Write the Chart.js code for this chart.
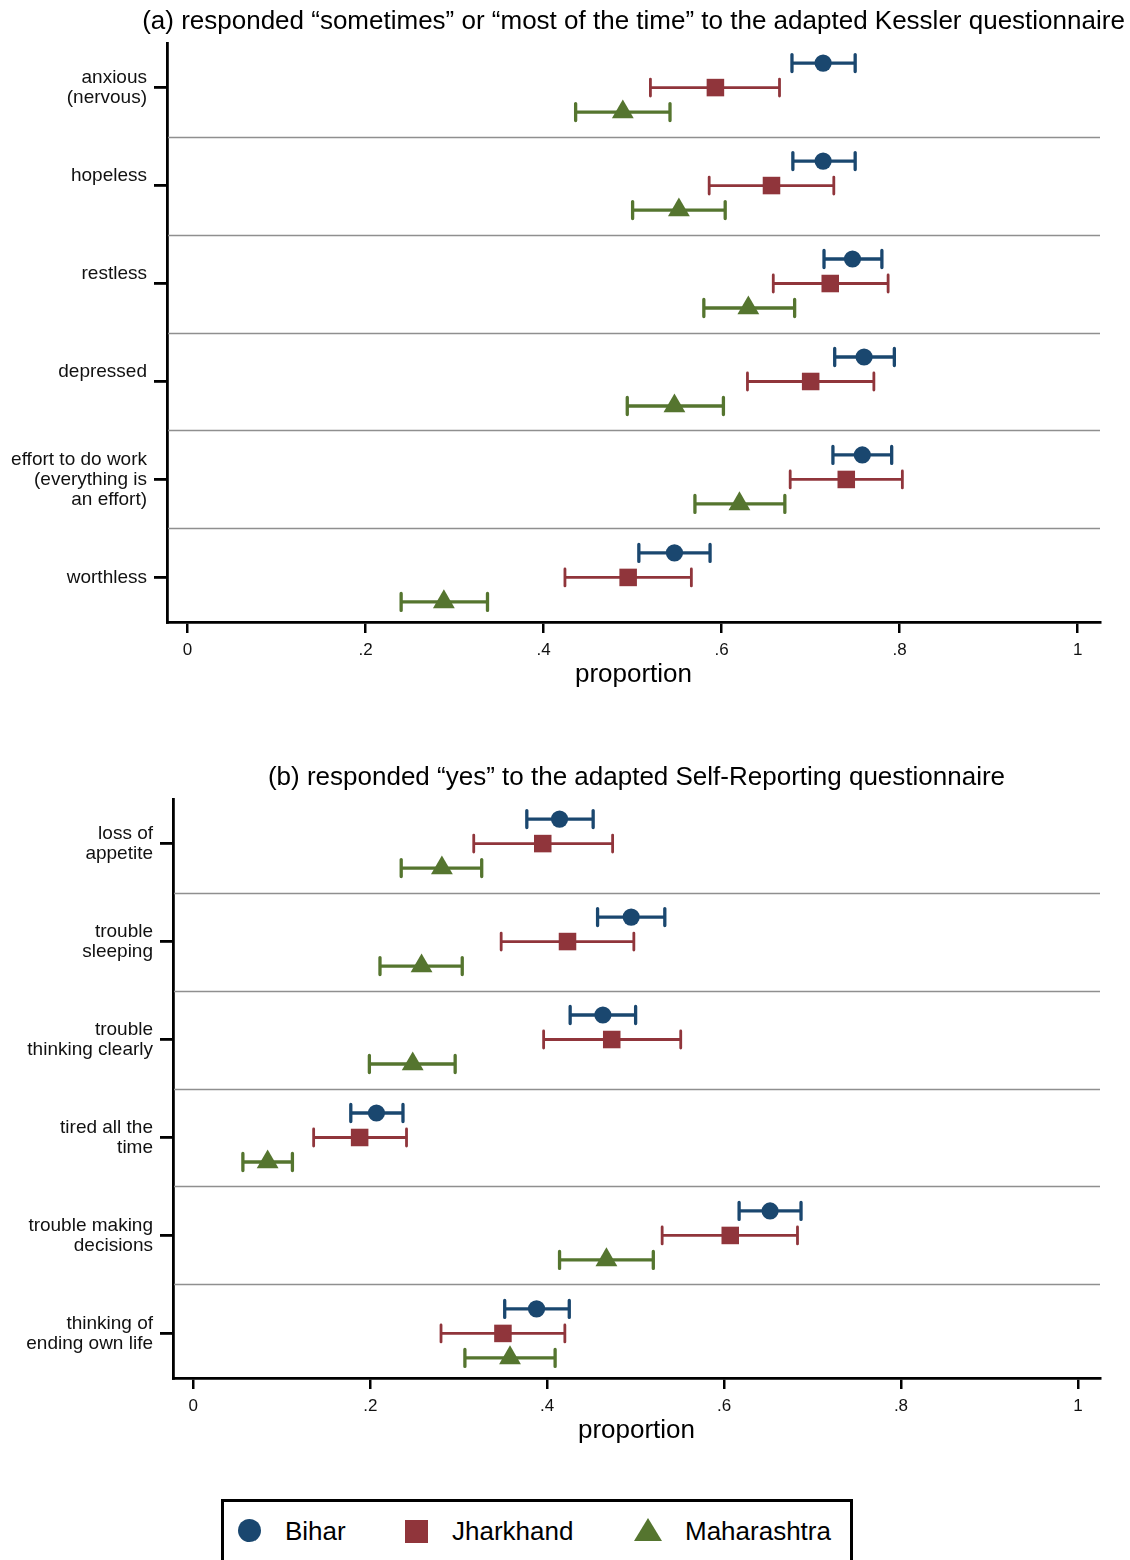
<!DOCTYPE html>
<html>
<head>
<meta charset="utf-8">
<title>Mental health indicators by state</title>
<script src="https://cdn.jsdelivr.net/npm/chart.js@4.4.1/dist/chart.umd.min.js"></script>
<style>
  html, body { margin: 0; padding: 0; background: #fff; }
  #wrap { position: relative; width: 1130px; height: 1560px; overflow: hidden;
          font-family: "Liberation Sans", Arial, sans-serif; color: #000; }
  #wrap canvas { position: absolute; left: 0; }
  #panelA { top: 0; }
  #panelB { top: 756px; }
  .legend-box { position: absolute; left: 221px; top: 1499px; width: 632px; height: 100px;
                border: 3px solid #000; box-sizing: border-box; }
  .mk { position: absolute; }
  .lg-text { position: absolute; top: 1518px; font-size: 26px; line-height: 26px; white-space: nowrap; }
</style>
</head>
<body>
<div id="wrap">
  <canvas id="panelA" width="1267" height="700"></canvas>
  <canvas id="panelB" width="1273" height="700"></canvas>

  <div class="legend-box"></div>
  <div class="mk" style="left:238px;top:1519px;width:23px;height:23px;border-radius:50%;background:#1a476f;"></div>
  <div class="lg-text" style="left:285px;">Bihar</div>
  <div class="mk" style="left:405px;top:1520px;width:23px;height:23px;background:#90353b;"></div>
  <div class="lg-text" style="left:452px;">Jharkhand</div>
  <div class="mk" style="left:634px;top:1518px;width:0;height:0;border-left:14px solid transparent;border-right:14px solid transparent;border-bottom:23px solid #55752f;"></div>
  <div class="lg-text" style="left:685px;">Maharashtra</div>
</div>

<script>
// ---- Data -------------------------------------------------------------
const stateNames = ['Bihar', 'Jharkhand', 'Maharashtra'];

// (a) adapted Kessler questionnaire items (a trailing '' keeps a blank second label line)
const kesslerItems = [
  ['anxious', '(nervous)'],
  ['hopeless', ''],
  ['restless', ''],
  ['depressed', ''],
  ['effort to do work', '(everything is', 'an effort)'],
  ['worthless']
];
const kesslerBihar          = [0.714, 0.714, 0.747, 0.760, 0.758, 0.547];
const kesslerBiharLo        = [0.679, 0.680, 0.715, 0.727, 0.725, 0.507];
const kesslerBiharHi        = [0.750, 0.750, 0.780, 0.794, 0.791, 0.587];
const kesslerJharkhand      = [0.593, 0.656, 0.722, 0.700, 0.740, 0.495];
const kesslerJharkhandLo    = [0.520, 0.586, 0.658, 0.629, 0.677, 0.424];
const kesslerJharkhandHi    = [0.665, 0.726, 0.787, 0.771, 0.803, 0.566];
const kesslerMaharashtra    = [0.489, 0.552, 0.630, 0.547, 0.620, 0.288];
const kesslerMaharashtraLo  = [0.436, 0.500, 0.580, 0.494, 0.570, 0.240];
const kesslerMaharashtraHi  = [0.542, 0.604, 0.682, 0.602, 0.671, 0.337];

// (b) adapted Self-Reporting questionnaire items
const srqItems = [
  ['loss of', 'appetite'],
  ['trouble', 'sleeping'],
  ['trouble', 'thinking clearly'],
  ['tired all the', 'time'],
  ['trouble making', 'decisions'],
  ['thinking of', 'ending own life']
];
const srqBihar          = [0.414, 0.495, 0.463, 0.207, 0.652, 0.388];
const srqBiharLo        = [0.377, 0.457, 0.426, 0.178, 0.617, 0.352];
const srqBiharHi        = [0.452, 0.533, 0.500, 0.237, 0.687, 0.425];
const srqJharkhand      = [0.395, 0.423, 0.473, 0.188, 0.607, 0.350];
const srqJharkhandLo    = [0.317, 0.348, 0.396, 0.136, 0.530, 0.280];
const srqJharkhandHi    = [0.474, 0.498, 0.551, 0.241, 0.683, 0.420];
const srqMaharashtra    = [0.281, 0.258, 0.248, 0.084, 0.467, 0.358];
const srqMaharashtraLo  = [0.235, 0.211, 0.199, 0.056, 0.414, 0.307];
const srqMaharashtraHi  = [0.326, 0.304, 0.296, 0.112, 0.520, 0.409];

const xTickValues = [0, 0.2, 0.4, 0.6, 0.8, 1];
const xTickLabels = ['0', '.2', '.4', '.6', '.8', '1'];

// ---- Styling ----------------------------------------------------------
const FONT = '"Liberation Sans", Arial, sans-serif';
const stateColors  = ['#1a476f', '#90353b', '#55752f'];
const stateMarkers = ['circle', 'rect', 'triangle'];
const markerRadius = [8.6, 12.4, 12.6];
const barWidth     = [3.3, 2.8, 3.3];
const rowShift     = [-0.25, 0, 0.25];   // vertical offset of each state inside an item band
const CAP_HALF = 8.5;

Chart.defaults.font.family = FONT;
Chart.defaults.color = '#000';
Chart.defaults.animation = false;

// Separators between items + confidence-interval bars, drawn under the markers
const intervalPlugin = {
  id: 'intervalBars',
  beforeDatasetsDraw(chart) {
    const { ctx, chartArea, scales: { x, y } } = chart;
    const n = chart.options.itemCount;
    ctx.save();
    ctx.strokeStyle = '#8f8f8f';
    ctx.lineWidth = 1.3;
    for (let i = 0; i < n - 1; i++) {
      const py = Math.round(y.getPixelForValue(i + 0.5)) + 0.5;
      ctx.beginPath();
      ctx.moveTo(chartArea.left + 1, py);
      ctx.lineTo(chartArea.right, py);
      ctx.stroke();
    }
    chart.data.datasets.forEach(ds => {
      ctx.strokeStyle = ds.backgroundColor;
      ctx.lineWidth = ds.intervalWidth;
      ds.data.forEach(pt => {
        const x0 = x.getPixelForValue(pt.lo);
        const x1 = x.getPixelForValue(pt.hi);
        const py = y.getPixelForValue(pt.y);
        ctx.lineCap = 'butt';
        ctx.beginPath();
        ctx.moveTo(x0, py); ctx.lineTo(x1, py);
        ctx.stroke();
        ctx.lineCap = 'round';
        ctx.beginPath();
        ctx.moveTo(x0, py - CAP_HALF); ctx.lineTo(x0, py + CAP_HALF);
        ctx.moveTo(x1, py - CAP_HALF); ctx.lineTo(x1, py + CAP_HALF);
        ctx.stroke();
      });
    });
    ctx.restore();
  }
};

function buildPanel(canvasId, titleText, items, series, plotLeft) {
  const canvas = document.getElementById(canvasId);
  const rightPad = canvas.width - 1100;   // keeps the title centred over the plot region
  const datasets = series.map((s, k) => ({
    label: stateNames[k],
    data: s.mid.map((v, i) => ({ x: v, y: i + rowShift[k], lo: s.lo[i], hi: s.hi[i] })),
    pointStyle: stateMarkers[k],
    pointRadius: markerRadius[k],
    pointHoverRadius: markerRadius[k],
    backgroundColor: stateColors[k],
    borderColor: stateColors[k],
    pointBorderWidth: 0,
    showLine: false,
    intervalWidth: barWidth[k]
  }));

  return new Chart(canvas, {
    type: 'scatter',
    data: { datasets },
    plugins: [intervalPlugin],
    options: {
      responsive: false,
      itemCount: items.length,
      layout: { padding: 0 },
      plugins: {
        legend: { display: false },
        tooltip: { enabled: false },
        title: {
          display: true,
          text: titleText,
          color: '#000',
          font: { size: 26, weight: 'normal', family: FONT, lineHeight: 1.2 },
          padding: { top: 6.4, bottom: 5.4 }
        }
      },
      scales: {
        x: {
          type: 'linear',
          position: 'bottom',
          min: -0.023,
          max: 1.025,
          afterBuildTicks(s) { s.ticks = xTickValues.map(v => ({ value: v })); },
          afterFit(s) { s.height = 78; },
          ticks: {
            callback: (v, idx) => xTickLabels[idx],
            font: { size: 17, family: FONT },
            color: '#111',
            padding: 7,
            maxRotation: 0,
            autoSkip: false
          },
          grid: { display: true, drawOnChartArea: false, drawTicks: true,
                  tickLength: 11, tickColor: '#000', tickWidth: 2.5, lineWidth: 2.5, color: '#000' },
          border: { display: true, color: '#000', width: 2.7 },
          title: { display: true, text: 'proportion', color: '#000',
                   font: { size: 26, family: FONT, lineHeight: 1.2 },
                   padding: { top: 0, bottom: 10 } }
        },
        y: {
          type: 'linear',
          position: 'left',
          reverse: true,
          min: -0.455,
          max: 5.455,
          afterBuildTicks(s) { s.ticks = items.map((_, i) => ({ value: i })); },
          afterFit(s) { s.width = plotLeft; },
          ticks: {
            callback: (v, idx) => items[idx],
            font: { size: 19, family: FONT, lineHeight: 1.05 },
            color: '#111',
            padding: 7,
            autoSkip: false
          },
          grid: { display: true, drawOnChartArea: false, drawTicks: true,
                  tickLength: 13, tickColor: '#000', tickWidth: 2.8, lineWidth: 2.8, color: '#000' },
          border: { display: true, color: '#000', width: 2.8 }
        },
        pad: {
          type: 'linear',
          position: 'right',
          display: true,
          min: 0,
          max: 1,
          afterFit(s) { s.width = rightPad; },
          ticks: { display: false },
          grid: { display: false, drawTicks: false },
          border: { display: false }
        }
      }
    }
  });
}

buildPanel('panelA',
  '(a) responded \u201csometimes\u201d or \u201cmost of the time\u201d to the adapted Kessler questionnaire',
  kesslerItems,
  [
    { mid: kesslerBihar,       lo: kesslerBiharLo,       hi: kesslerBiharHi },
    { mid: kesslerJharkhand,   lo: kesslerJharkhandLo,   hi: kesslerJharkhandHi },
    { mid: kesslerMaharashtra, lo: kesslerMaharashtraLo, hi: kesslerMaharashtraHi }
  ],
  167);

buildPanel('panelB',
  '(b) responded \u201cyes\u201d to the adapted Self-Reporting questionnaire',
  srqItems,
  [
    { mid: srqBihar,       lo: srqBiharLo,       hi: srqBiharHi },
    { mid: srqJharkhand,   lo: srqJharkhandLo,   hi: srqJharkhandHi },
    { mid: srqMaharashtra, lo: srqMaharashtraLo, hi: srqMaharashtraHi }
  ],
  173);
</script>
</body>
</html>
